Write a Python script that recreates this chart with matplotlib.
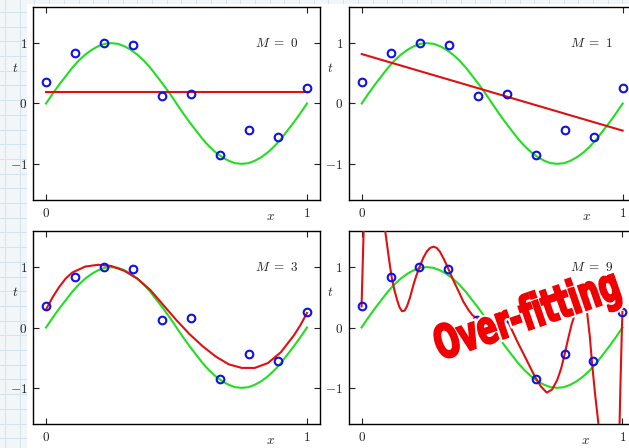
import numpy as np
import matplotlib
matplotlib.use('Agg')
import matplotlib.pyplot as plt
import matplotlib.transforms as mtransforms
import matplotlib.patheffects as pe
from matplotlib.patches import PathPatch, Rectangle
from matplotlib.textpath import TextPath
from matplotlib.font_manager import FontProperties, fontManager

plt.rcParams['mathtext.fontset'] = 'cm'
plt.rcParams['font.family'] = 'DejaVu Serif'

# Observed data points (same in all four panels)
x_data = [0.0, 0.111, 0.222, 0.333, 0.444, 0.556, 0.667, 0.778, 0.889, 1.0]
t_data = [0.35, 0.83, 1.0, 0.97, 0.13, 0.16, -0.85, -0.44, -0.56, 0.26]

# Green curve
x_green = [0.0, 0.025, 0.05, 0.075, 0.1, 0.125, 0.15, 0.175, 0.2, 0.225, 0.25,
           0.275, 0.3, 0.325, 0.35, 0.375, 0.4, 0.425, 0.45, 0.475, 0.5,
           0.525, 0.55, 0.575, 0.6, 0.625, 0.65, 0.675, 0.7, 0.725, 0.75,
           0.775, 0.8, 0.825, 0.85, 0.875, 0.9, 0.925, 0.95, 0.975, 1.0]
t_green = [0.0, 0.16, 0.31, 0.45, 0.59, 0.71, 0.81, 0.89, 0.95, 0.99, 1.0,
           0.99, 0.95, 0.89, 0.81, 0.71, 0.59, 0.45, 0.31, 0.16, 0.0,
           -0.16, -0.31, -0.45, -0.59, -0.71, -0.81, -0.89, -0.95, -0.99, -1.0,
           -0.99, -0.95, -0.89, -0.81, -0.71, -0.59, -0.45, -0.31, -0.16, 0.0]

# Red fitted curves for M = 0, 1, 3, 9
x_fit0 = [0.0, 1.0]
t_fit0 = [0.19, 0.19]

x_fit1 = [0.0, 1.0]
t_fit1 = [0.82, -0.45]

x_fit3 = [0.0, 0.025, 0.05, 0.075, 0.1, 0.15, 0.2, 0.25, 0.3, 0.35, 0.4, 0.45,
          0.5, 0.55, 0.6, 0.65, 0.7, 0.75, 0.8, 0.85, 0.9, 0.95, 0.975, 1.0]
t_fit3 = [0.30, 0.50, 0.67, 0.81, 0.91, 1.01, 1.04, 1.02, 0.94, 0.81, 0.62, 0.37,
          0.12, -0.11, -0.31, -0.48, -0.61, -0.67, -0.67, -0.59, -0.41, -0.13, 0.04, 0.24]

x_fit9 = [0.0, 0.002, 0.004, 0.006, 0.008, 0.03, 0.06, 0.085, 0.091, 0.1,
          0.108, 0.116, 0.126, 0.136, 0.145, 0.155, 0.165, 0.174, 0.186, 0.199,
          0.21, 0.222, 0.236, 0.25, 0.263, 0.276, 0.288, 0.3, 0.316, 0.333,
          0.352, 0.372, 0.39, 0.41, 0.426, 0.444, 0.47, 0.5, 0.53, 0.556,
          0.576, 0.6, 0.62, 0.643, 0.665, 0.688, 0.71, 0.73, 0.75, 0.765,
          0.778, 0.79, 0.805, 0.825, 0.835, 0.845, 0.855, 0.864, 0.875, 0.883,
          0.895, 0.908, 0.93, 0.97, 0.985, 0.989, 0.992, 0.995, 0.998, 1.0]
t_fit9 = [0.35, 0.66, 0.97, 1.28, 1.6, 3.5, 3.5, 1.85, 1.59, 1.3,
          1.05, 0.82, 0.62, 0.46, 0.34, 0.27, 0.28, 0.35, 0.5, 0.71,
          0.86, 1.0, 1.15, 1.26, 1.32, 1.34, 1.32, 1.26, 1.13, 0.97,
          0.78, 0.6, 0.43, 0.29, 0.2, 0.15, 0.11, 0.11, 0.14, 0.16,
          -0.04, -0.26, -0.43, -0.63, -0.82, -0.98, -1.08, -1.03, -0.87, -0.68,
          -0.45, -0.22, 0.05, 0.32, 0.44, 0.48, 0.42, 0.265, -0.15, -0.57,
          -1.1, -1.6, -3.5, -3.5, -1.8, -1.6, -1.0, -0.5, 0.0, 0.26]

panel_labels = [r'$M\ =\ 0$', r'$M\ =\ 1$', r'$M\ =\ 3$', r'$M\ =\ 9$']
fits = [(x_fit0, t_fit0), (x_fit1, t_fit1), (x_fit3, t_fit3), (x_fit9, t_fit9)]

W, H = 629, 448
fig = plt.figure(figsize=(W / 100, H / 100), dpi=100)

# graph-paper background strip on the left / top edge
bg = fig.add_axes([0, 0, 1, 1], zorder=-5)
bg.set_xlim(0, W)
bg.set_ylim(H, 0)
bg.axis('off')
bg.add_patch(Rectangle((0, 0), W, H, color='#f3f6f8', lw=0, zorder=0))
for y in np.arange(12, H, 14.7):
    bg.plot([0, W], [y, y], color='#d3e4ec', lw=0.8, zorder=1)
for x in np.arange(5, W, 14.7):
    bg.plot([x, x], [0, H], color='#d3e4ec', lw=0.8, zorder=1)
bg.add_patch(Rectangle((27, 4), W - 27, H - 4, color='white', lw=0, zorder=5))


def px_axes(left, top, w=287, h=193):
    return fig.add_axes([left / W, (H - top - h) / H, w / W, h / H],
                        zorder=1, facecolor='white')


axes = [px_axes(33, 7), px_axes(348.7, 7), px_axes(33, 231), px_axes(348.5, 231)]

for ax, (xf, tf), lab in zip(axes, fits, panel_labels):
    ax.plot(x_green, t_green, color='#22dd22', lw=1.5, zorder=2)
    ax.plot(xf, tf, color='#e01010', lw=1.5, zorder=3)
    ax.plot(x_data, t_data, 'o', ms=5.5, mfc='none', mec='#1010e8', mew=1.5, zorder=4)
    ax.set_xlim(-0.05, 1.05)
    ax.set_ylim(-1.6, 1.6)
    ax.set_xticks([0, 1])
    ax.set_xticklabels(['$0$', '$1$'])
    ax.set_yticks([-1, 0, 1])
    ax.set_yticklabels(['$-1$', '$0$', '$1$'])
    ax.tick_params(direction='in', top=True, right=True, length=4, width=0.8,
                   labelsize=9.5, colors='#222222', pad=4)
    ax.tick_params(axis='x', pad=5)
    for sp in ax.spines.values():
        sp.set_linewidth(1.0)
    ax.text(0.8, 1.0, lab, fontsize=9.5, va='center', ha='left', color='#222222')
    ax.text(-0.063, 0.683, '$t$', transform=ax.transAxes, fontsize=9.5,
            ha='center', va='center', color='#222222')
    ax.text(0.827, -0.088, '$x$', transform=ax.transAxes, fontsize=9.5,
            ha='center', va='center', color='#222222')

# "Over-fitting" stamp
names = {f.name for f in fontManager.ttflist}
fam = 'Liberation Sans Narrow' if 'Liberation Sans Narrow' in names else 'DejaVu Sans'
fp = FontProperties(family=fam, weight='bold')
tp = TextPath((0, 0), 'Over-fitting', size=40, prop=fp)
ext = tp.get_extents()
o_ext = TextPath((0, 0), 'O', size=40, prop=fp).get_extents()
sx = 190 / ext.width
sy = 35 / o_ext.height
tr = (mtransforms.Affine2D()
      .translate(-(ext.x0 + ext.width / 2), -(o_ext.y0 + o_ext.height / 2))
      .scale(sx, sy)
      .rotate_deg(19)
      .translate(526, H - 313)
      .scale(1 / W, 1 / H))
stamp = PathPatch(tr.transform_path(tp), transform=fig.transFigure,
                  facecolor='#f00000', edgecolor='none', zorder=10)
stamp.set_path_effects([pe.Stroke(linewidth=4.5, foreground='white'),
                        pe.Stroke(linewidth=1.5, foreground='#f00000'),
                        pe.Normal()])
fig.add_artist(stamp)

fig.savefig('out.png', dpi=100)
